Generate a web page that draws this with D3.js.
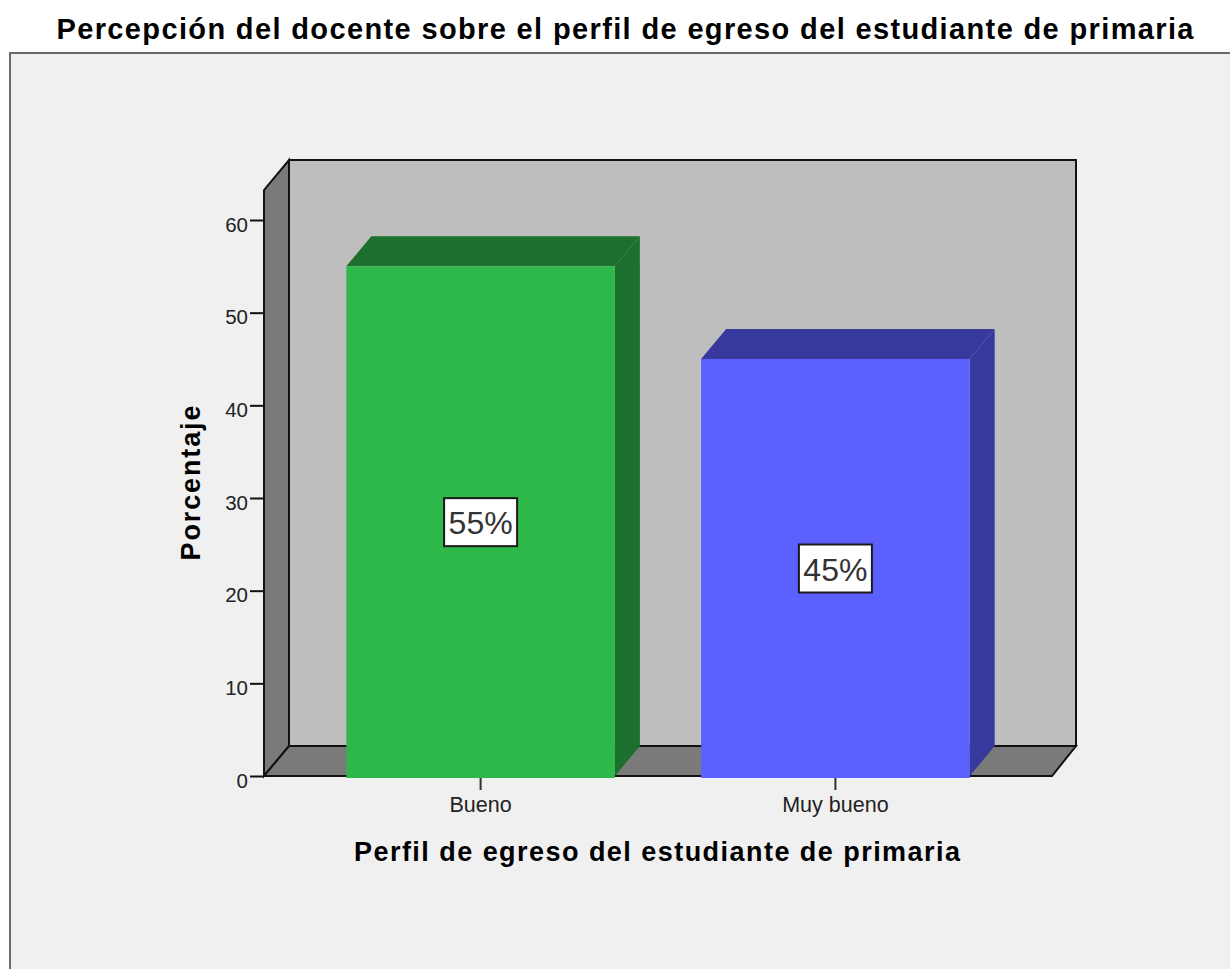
<!DOCTYPE html>
<html>
<head>
<meta charset="utf-8">
<script src="https://cdn.jsdelivr.net/npm/d3@7"></script>
<style>
    html, body { margin: 0; padding: 0; background: #fff; }
    svg { display: block; font-family: "Liberation Sans", Arial, sans-serif; }
</style>
</head>
<body>
<div id="chart"></div>
<script>
var categories = ["Bueno", "Muy bueno"];
var percentages = [55, 45];
var barLabels = ["55%", "45%"];
var barColors = ["#2fb84a", "#5b60ff"];
var barShades = ["#1d6f2d", "#373a9c"];
var yTicks = [0, 10, 20, 30, 40, 50, 60];

var titleText = "Percepción del docente sobre el perfil de egreso del estudiante de primaria";
var xTitleText = "Perfil de egreso del estudiante de primaria";
var yTitleText = "Porcentaje";

var width = 1230, height = 969;

// front face of the box, the back wall sits up and to the right of it
var boxLeft = 264, boxRight = 1052, boxBottom = 776, tickTop = 220, boxTop = 190;
var depthX = 25, depthY = 30;

var svg = d3.select("#chart").append("svg")
    .attr("width", width)
    .attr("height", height);

var x = d3.scaleBand()
    .domain(categories)
    .range([boxLeft, boxRight])
    .paddingInner(0.243)
    .paddingOuter(0.232);

var y = d3.scaleLinear()
    .domain([0, 60])
    .range([boxBottom, tickTop]);

function pts(list) {
    return list.map(p => p.join(",")).join(" ");
}

// background panel, frame runs off the right and bottom edges
svg.append("rect")
    .attr("x", 10).attr("y", 53)
    .attr("width", width + 20).attr("height", height)
    .attr("fill", "#f0f0f0")
    .attr("stroke", "#6a6a6a")
    .attr("stroke-width", 2);

svg.append("text")
    .attr("x", 625).attr("y", 39)
    .attr("text-anchor", "middle")
    .attr("font-size", 29)
    .attr("font-weight", "bold")
    .attr("textLength", 1137)
    .attr("fill", "#000")
    .text(titleText);

// back wall
svg.append("rect")
    .attr("x", boxLeft + depthX).attr("y", boxTop - depthY)
    .attr("width", boxRight - boxLeft - 1).attr("height", boxBottom - boxTop)
    .attr("fill", "#bebebe")
    .attr("stroke", "#111")
    .attr("stroke-width", 2);

// left wall
svg.append("polygon")
    .attr("points", pts([[boxLeft, boxBottom], [boxLeft, boxTop], [boxLeft + depthX, boxTop - depthY], [boxLeft + depthX, boxBottom - depthY]]))
    .attr("fill", "#7a7a7a")
    .attr("stroke", "#111")
    .attr("stroke-width", 2);

// floor
svg.append("polygon")
    .attr("points", pts([[boxLeft, boxBottom], [boxLeft + depthX, boxBottom - depthY], [boxRight + depthX - 1, boxBottom - depthY], [boxRight, boxBottom]]))
    .attr("fill", "#7a7a7a")
    .attr("stroke", "#111")
    .attr("stroke-width", 2);

var yAxis = d3.axisLeft(y)
    .tickValues(yTicks)
    .tickSize(14)
    .tickPadding(2);

var yAxisG = svg.append("g")
    .attr("transform", `translate(${boxLeft},0)`)
    .call(yAxis);
yAxisG.select(".domain").remove();
yAxisG.selectAll(".tick line").attr("stroke", "#111").attr("stroke-width", 2);
yAxisG.selectAll(".tick text")
    .attr("font-family", "Liberation Sans")
    .attr("font-size", 20.5)
    .attr("dy", "0.55em")
    .attr("fill", "#222");

var bars = svg.selectAll("g.bar")
    .data(categories)
    .enter()
    .append("g")
    .attr("class", "bar");

// bar top
bars.append("polygon")
    .attr("points", (d, i) => {
        var x0 = x(d), x1 = x(d) + x.bandwidth(), yv = y(percentages[i]);
        return pts([[x0, yv], [x0 + depthX, yv - depthY], [x1 + depthX, yv - depthY], [x1, yv]]);
    })
    .attr("fill", (d, i) => barShades[i]);

// bar side
bars.append("polygon")
    .attr("points", (d, i) => {
        var x1 = x(d) + x.bandwidth(), yv = y(percentages[i]);
        return pts([[x1, yv], [x1 + depthX, yv - depthY], [x1 + depthX, y(0) - depthY], [x1, y(0)]]);
    })
    .attr("fill", (d, i) => barShades[i]);

// bar front
bars.append("rect")
    .attr("x", d => x(d))
    .attr("y", (d, i) => y(percentages[i]))
    .attr("width", x.bandwidth())
    .attr("height", (d, i) => y(0) - y(percentages[i]) + 2)
    .attr("fill", (d, i) => barColors[i]);

var xAxis = d3.axisBottom(x)
    .tickSize(12)
    .tickPadding(7);

var xAxisG = svg.append("g")
    .attr("transform", `translate(0,${boxBottom + 2})`)
    .call(xAxis);
xAxisG.select(".domain").remove();
xAxisG.selectAll(".tick line").attr("stroke", "#333").attr("stroke-width", 2);
xAxisG.selectAll(".tick text")
    .attr("font-family", "Liberation Sans")
    .attr("font-size", 21.5)
    .attr("fill", "#222");

// value labels in the middle of each bar
var labelW = 73, labelH = 48;

bars.append("rect")
    .attr("x", d => x(d) + x.bandwidth() / 2 - labelW / 2)
    .attr("y", (d, i) => y(percentages[i] / 2) - labelH / 2 + 1)
    .attr("width", labelW)
    .attr("height", labelH)
    .attr("fill", "#fff")
    .attr("stroke", "#1a1a1a")
    .attr("stroke-width", 2);

bars.append("text")
    .attr("x", d => x(d) + x.bandwidth() / 2)
    .attr("y", (d, i) => y(percentages[i] / 2) + 13)
    .attr("text-anchor", "middle")
    .attr("font-size", 32)
    .attr("fill", "#333")
    .text((d, i) => barLabels[i]);

svg.append("text")
    .attr("x", 657).attr("y", 861)
    .attr("text-anchor", "middle")
    .attr("font-size", 27)
    .attr("font-weight", "bold")
    .attr("textLength", 606)
    .attr("fill", "#000")
    .text(xTitleText);

svg.append("text")
    .attr("transform", "translate(200,483) rotate(-90)")
    .attr("text-anchor", "middle")
    .attr("font-size", 27)
    .attr("font-weight", "bold")
    .attr("textLength", 155)
    .attr("fill", "#000")
    .text(yTitleText);
</script>
</body>
</html>
